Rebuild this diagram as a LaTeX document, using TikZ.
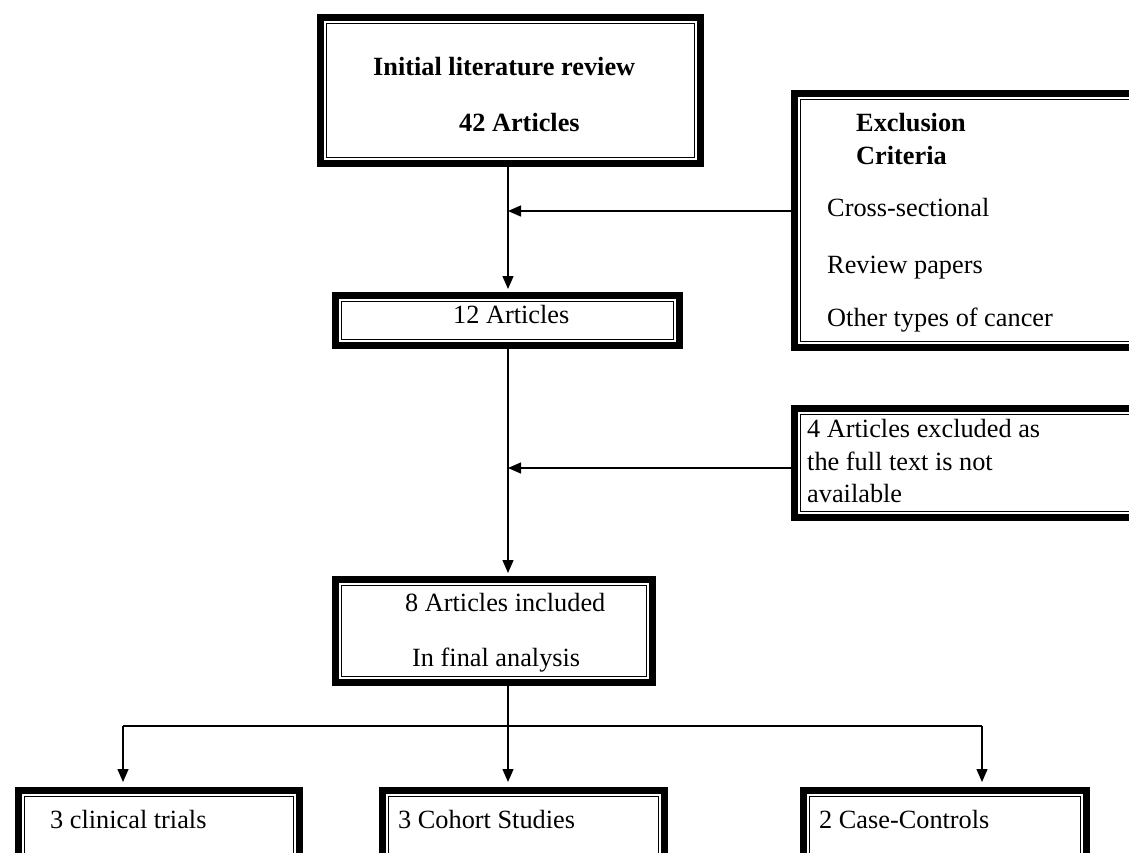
\documentclass[tikz,border=0pt]{standalone}
\usepackage{fontspec}
\setmainfont{Liberation Serif}
\usetikzlibrary{arrows.meta}
\begin{document}
\begin{tikzpicture}[x=1pt,y=-1pt,
  box/.style={draw, line width=6.5pt, inner sep=0pt, anchor=north west,
    path picture={\draw[line width=1.4pt]
      ([shift={(6pt,-6pt)}]path picture bounding box.north west) rectangle
      ([shift={(-6pt,6pt)}]path picture bounding box.south east);}},
  conn/.style={line width=1.4pt},
  arr/.style={conn, -{Triangle[length=13pt,width=11pt]}},
  txt/.style={anchor=base west, inner sep=0pt, font=\fontsize{26.3}{31}\selectfont},
  btxt/.style={txt, font=\fontsize{26.3}{31}\selectfont\bfseries}]
\clip (0,0) rectangle (1129,852);
\fill[white] (0,0) rectangle (1129,852);
% boxes
\node[box, minimum width=380pt, minimum height=146pt] (top) at (317,14) {};
\node[box, minimum width=344pt, minimum height=50pt] (b12) at (332,292) {};
\node[box, minimum width=346pt, minimum height=254pt] (excl) at (791,90) {};
\node[box, minimum width=346pt, minimum height=109pt] (b4) at (791,405) {};
\node[box, minimum width=317pt, minimum height=103pt] (b8) at (332,576) {};
\node[box, minimum width=281pt, minimum height=90pt] (c1) at (15,787) {};
\node[box, minimum width=282pt, minimum height=90pt] (c2) at (379,787) {};
\node[box, minimum width=283pt, minimum height=90pt] (c3) at (800,787) {};
% texts
\node[btxt] (t1) at (373,75) {Initial literature review};
\node[btxt] (t2) at (459,131) {42 Articles};
\node[btxt] (e1) at (856,131) {Exclusion};
\node[btxt] (e2) at (856,164) {Criteria};
\node[txt] (e3) at (827,216) {Cross-sectional};
\node[txt] (e4) at (827,273) {Review papers};
\node[txt] (e5) at (827,326) {Other types of cancer};
\node[txt] (t12) at (453,323) {12 Articles};
\node[txt] (f1) at (807,437) {4 Articles excluded as};
\node[txt] (f2) at (807,470) {the full text is not};
\node[txt] (f3) at (807,502) {available};
\node[txt] (g1) at (405,611) {8 Articles included};
\node[txt] (g2) at (412,666) {In final analysis};
\node[txt] (h1) at (50,828) {3 clinical trials};
\node[txt] (h2) at (398,828) {3 Cohort Studies};
\node[txt] (h3) at (819,828) {2 Case-Controls};
% junctions
\coordinate (j1) at (508,211);
\coordinate (j2) at (508,468);
\coordinate (j3) at (508,726);
\coordinate (jl) at (123,726);
\coordinate (jr) at (982,726);
% connectors
\draw[arr, shorten >=3pt] (top.south -| j1) -- (b12.north -| j1);
\draw[arr] (excl.west |- j1) -- (j1);
\draw[arr, shorten >=3pt] (b12.south -| j1) -- (b8.north -| j1);
\draw[arr] (b4.west |- j2) -- (j2);
\draw[conn] (b8.south -| j3) -- (j3);
\draw[conn] (jl) -- (jr);
\draw[arr, shorten >=5pt] (jl) -- (c1.north -| jl);
\draw[arr, shorten >=5pt] (j3) -- (c2.north -| j3);
\draw[arr, shorten >=5pt] (jr) -- (c3.north -| jr);
\end{tikzpicture}
\end{document}
